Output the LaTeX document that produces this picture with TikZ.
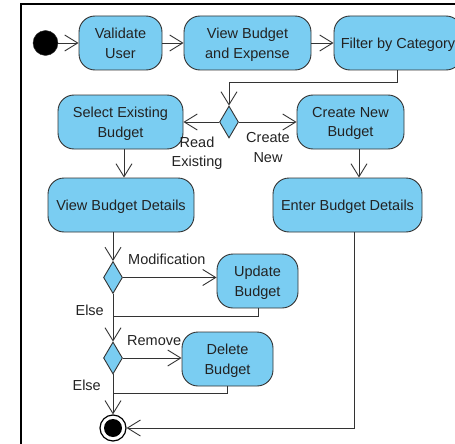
\documentclass[tikz,border=0pt]{standalone}
\usepackage{fontspec}
\setmainfont{Liberation Sans}
\usetikzlibrary{arrows.meta,shapes.geometric}
\definecolor{actfill}{HTML}{7ACDF2}
\definecolor{linecol}{HTML}{333333}
\definecolor{txtcol}{HTML}{222222}
\newcommand{\labfont}{\fontsize{14.5}{19.5}\selectfont}
\tikzset{
  act/.style={draw=linecol, fill=actfill, rounded corners=16pt, line width=0.9pt,
    align=center, inner sep=0pt, text depth=0pt, text=txtcol, font=\labfont},
  dec/.style={draw=linecol, fill=actfill, diamond, line width=0.9pt, inner sep=0pt,
    minimum width=19pt, minimum height=32pt},
  flow/.style={draw=linecol, line width=0.9pt},
  arr/.style={flow, -{Straight Barb[length=13pt,width=16pt]}},
  guard/.style={text=txtcol, font=\labfont, inner sep=0pt, align=center},
}
\begin{document}
\begin{tikzpicture}[x=1pt,y=-1pt]
\useasboundingbox (0,0) rectangle (455,444);
\clip (0,0) rectangle (455,444);
% outer frame
\draw[line width=2pt] (21,4) rectangle (490,480);

% initial node
\node[circle, fill=black, draw=linecol, minimum size=25pt, inner sep=0pt] (start) at (45.5,43) {};

% activities
\node[act, minimum width=83pt, minimum height=54pt] (validate) at (120.5,43) {Validate\\User};
\node[act, minimum width=127pt, minimum height=54pt] (viewbe) at (247.5,43) {View Budget\\and Expense};
\node[act, minimum width=128pt, minimum height=54pt] (filter) at (398,43) {Filter by Category};
\node[dec] (d1) at (229,122) {};
\node[act, minimum width=125pt, minimum height=54pt] (select) at (120.5,122) {Select Existing\\Budget};
\node[act, minimum width=107pt, minimum height=54pt] (create) at (350.5,122) {Create New\\Budget};
\node[act, minimum width=146pt, minimum height=54pt] (vbd) at (121,205) {View Budget Details};
\node[act, minimum width=149pt, minimum height=54pt] (enter) at (347.5,205) {Enter Budget Details};
\node[dec] (d2) at (113,277.5) {};
\node[act, minimum width=81pt, minimum height=54pt] (update) at (257.5,281) {Update\\Budget};
\node[dec] (d3) at (113,358) {};
\node[act, minimum width=91pt, minimum height=54pt] (delete) at (227.5,359) {Delete\\Budget};

% final node
\node[circle, fill=white, draw=black, line width=1.2pt, minimum size=26pt, inner sep=0pt] (final) at (113,428) {};
\node[circle, fill=black, minimum size=18pt, inner sep=0pt] (finaldot) at (final.center) {};

% routing points
\coordinate (fx) at (397,0);
\coordinate (ja) at (0,82);
\coordinate (sx) at (124,0);
\coordinate (cx) at (359,0);
\coordinate (ex) at (354,0);
\coordinate (ux) at (258,0);
\coordinate (jb) at (0,316);
\coordinate (dx) at (227,0);
\coordinate (jc) at (0,393);

% connectors
\draw[arr] (start) -- (validate);
\draw[arr] (validate) -- (viewbe);
\draw[arr] (viewbe) -- (filter);
\draw[arr] (filter.south -| fx) -- (fx |- ja) -- (d1.north |- ja) -- (d1.north);
\draw[arr] (d1.west) -- (d1.west -| select.east);
\draw[arr] (d1.east) -- (d1.east -| create.west);
\draw[arr] (select.south -| sx) -- (vbd.north -| sx);
\draw[arr] (create.south -| cx) -- (enter.north -| cx);
\draw[arr] (vbd.south -| d2.north) -- (d2.north);
\draw[arr] (d2.east) -- (d2.east -| update.west);
\draw[flow] (update.south -| ux) -- (ux |- jb) -- (d2.south |- jb);
\draw[flow] (d2.south) -- (d2.south |- jb);
\draw[arr] (d2.south |- jb) -- (d3.north);
\draw[arr] (d3.east) -- (d3.east -| delete.west);
\draw[flow] (delete.south -| dx) -- (dx |- jc) -- (d3.south |- jc);
\draw[flow] (d3.south) -- (d3.south |- jc);
\draw[arr] (d3.south |- jc) -- (final.north);
\draw[arr] (enter.south -| ex) -- (ex |- final) -- (final.east);

% guards
\node[guard] (gread) at (197,153) {Read\\Existing};
\node[guard] (gcreate) at (268,147.5) {Create\\New};
\node[guard, anchor=west] (gmod) at (128,259) {Modification};
\node[guard, anchor=east] (gelse1) at (104,310) {Else};
\node[guard, anchor=west] (grem) at (127,341) {Remove};
\node[guard, anchor=east] (gelse2) at (101,385) {Else};
\end{tikzpicture}
\end{document}
